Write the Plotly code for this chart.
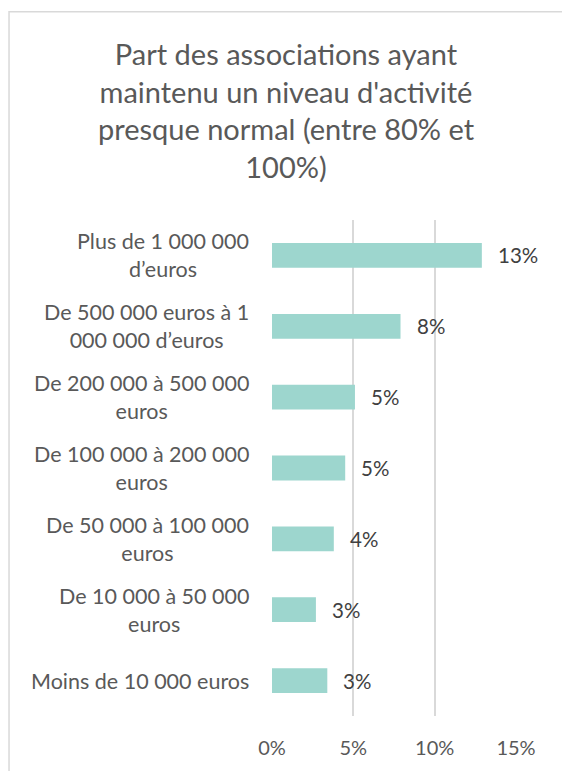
import plotly.graph_objects as go

categories = [
    "Plus de 1 000 000<br>d’euros",
    "De 500 000 euros à 1<br>000 000 d’euros",
    "De 200 000 à 500 000<br>euros",
    "De 100 000 à 200 000<br>euros",
    "De 50 000 à 100 000<br>euros",
    "De 10 000 à 50 000<br>euros",
    "Moins de 10 000 euros",
]
values = [0.129, 0.079, 0.051, 0.045, 0.038, 0.027, 0.034]
value_labels = ["13%", "8%", "5%", "5%", "4%", "3%", "3%"]
x_ticks = [0, 0.05, 0.10, 0.15]
x_tick_labels = ["0%", "5%", "10%", "15%"]
title = "Part des associations ayant<br>maintenu un niveau d'activité<br>presque normal (entre 80% et<br>100%)"

FONT = "Lato"
GRAY = "#595959"
ids = list(range(len(categories)))

fig = go.Figure()
fig.add_trace(go.Bar(
    x=values, y=ids, orientation="h",
    marker=dict(color="#9dd6ce", line=dict(width=0)),
    width=0.35, hoverinfo="skip",
))

for i, (v, lab, cat) in enumerate(zip(values, value_labels, categories)):
    fig.add_annotation(x=v, y=i, xref="x", yref="y", text=lab, showarrow=False,
                       xanchor="left", yanchor="middle", xshift=14,
                       font=dict(family=FONT, size=20.5, color="#404040"))
    fig.add_annotation(x=0, y=i, xref="x", yref="y", text=cat, showarrow=False,
                       xanchor="right", yanchor="middle", xshift=-21, align="center",
                       font=dict(family=FONT, size=21.5, color=GRAY))

L, R, T, B = 272, 45.5, 220, 52
W, H = 562, 771
pw, ph = W - L - R, H - T - B
fig.add_shape(type="rect", xref="paper", yref="paper",
              x0=(8.5 - L) / pw, x1=(580 - L) / pw,
              y0=(H - B - 790) / ph, y1=(H - B - 10.5) / ph,
              line=dict(color="#d9d9d9", width=1.5), fillcolor="rgba(0,0,0,0)", layer="below")

fig.update_layout(
    width=W, height=H,
    margin=dict(l=L, r=R, t=T, b=B),
    paper_bgcolor="white", plot_bgcolor="white",
    showlegend=False,
    title=dict(text=title, x=286 / W, xref="container", xanchor="center", y=1 - 65 / H, yanchor="top",
               font=dict(family=FONT, size=29, color=GRAY)),
    xaxis=dict(range=[0, 0.15], tickvals=x_ticks, ticktext=x_tick_labels,
               showgrid=True, gridcolor="#d9d9d9", gridwidth=1.5, zeroline=False,
               showline=False, ticks="", tickfont=dict(family=FONT, size=20, color=GRAY),
               fixedrange=True),
    yaxis=dict(range=[len(categories) - 0.5, -0.5], showticklabels=False, showgrid=False,
               zeroline=False, showline=False, ticks="", fixedrange=True),
)
fig.update_xaxes(ticklabelstandoff=18)
fig.write_html("out.html", config=dict(displayModeBar=False),
               post_script="document.body.style.margin='0';")
